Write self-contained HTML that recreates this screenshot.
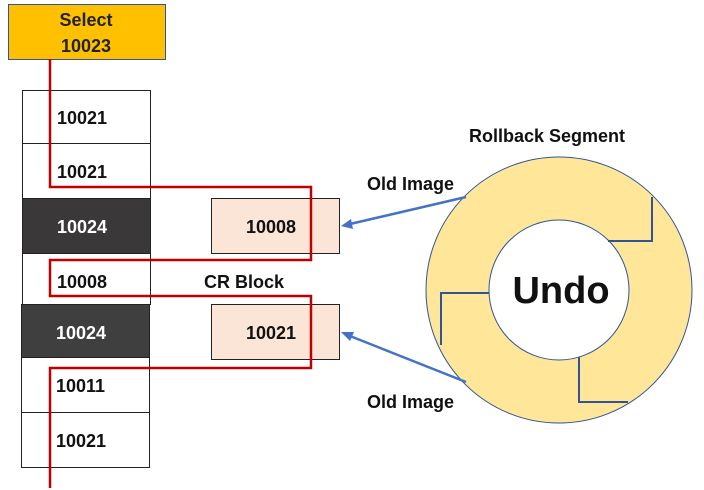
<!DOCTYPE html>
<html><head><style>
body{margin:0;background:#fff;}
svg{display:block;font-family:"Liberation Sans","Noto Sans CJK KR",sans-serif;font-weight:bold;}
</style></head><body>
<svg width="704" height="490" viewBox="0 0 704 490" xmlns="http://www.w3.org/2000/svg">
<rect x="8.5" y="4.5" width="157" height="55" fill="#FFC000" stroke="#2F5597" stroke-width="1"/>
<text x="86" y="26" font-size="18" text-anchor="middle" fill="#222">Select</text>
<text x="86" y="52" font-size="18" text-anchor="middle" fill="#222">10023</text>
<g stroke="#222" stroke-width="1">
<rect x="22.5" y="90.5" width="128" height="53" fill="#fff"/>
<rect x="22.5" y="143.5" width="128" height="55" fill="#fff"/>
<rect x="22.5" y="198.5" width="128" height="55" fill="#3a3838"/>
<rect x="22.5" y="253.5" width="128" height="51" fill="#fff"/>
<rect x="21.5" y="304.5" width="128" height="53" fill="#3f3f3f"/>
<rect x="21.5" y="357.5" width="128" height="55" fill="#fff"/>
<rect x="21.5" y="412.5" width="128" height="55" fill="#fff"/>
<rect x="211.5" y="198.5" width="128" height="55" fill="#FBE5D6"/>
<rect x="211.5" y="304.5" width="128" height="55" fill="#FBE5D6"/>
</g>
<g font-size="18" fill="#111">
<text x="57" y="124">10021</text>
<text x="57" y="178">10021</text>
<text x="57" y="233" fill="#fff">10024</text>
<text x="57" y="288">10008</text>
<text x="56" y="339" fill="#fff">10024</text>
<text x="56" y="392">10011</text>
<text x="56" y="447">10021</text>
<text x="246" y="233">10008</text>
<text x="246" y="339">10021</text>
<text x="204" y="288">CR Block</text>
<text x="469" y="142">Rollback Segment</text>
<text x="367" y="190">Old Image</text>
<text x="367" y="408">Old Image</text>
</g>
<polyline points="50,59 50,187 311,187 311,260 50,260 50,296 311,296 311,368 50,368 50,488" fill="none" stroke="#C00000" stroke-width="2.5"/>
<circle cx="559" cy="290" r="133" fill="#FFE699" stroke="#2F5597" stroke-width="1"/>
<circle cx="559" cy="290" r="70" fill="#fff" stroke="#2F5597" stroke-width="1"/>
<text x="561" y="303" font-size="38" text-anchor="middle" fill="#111">Undo</text>
<g fill="none" stroke="#2F5597" stroke-width="2">
<polyline points="652,197 652,241 608,241"/>
<polyline points="489,293 441,293 441,345"/>
<polyline points="579,357 579,402 628,402"/>
</g>
<g stroke="#4472C4" stroke-width="2.5" fill="#4472C4">
<line x1="466" y1="197" x2="350" y2="224"/>
<polygon points="341,226 351,219 353,229" stroke="none"/>
<line x1="466" y1="382" x2="350" y2="336"/>
<polygon points="341,332 354,332 350,341" stroke="none"/>
</g>
</svg>
</body></html>
